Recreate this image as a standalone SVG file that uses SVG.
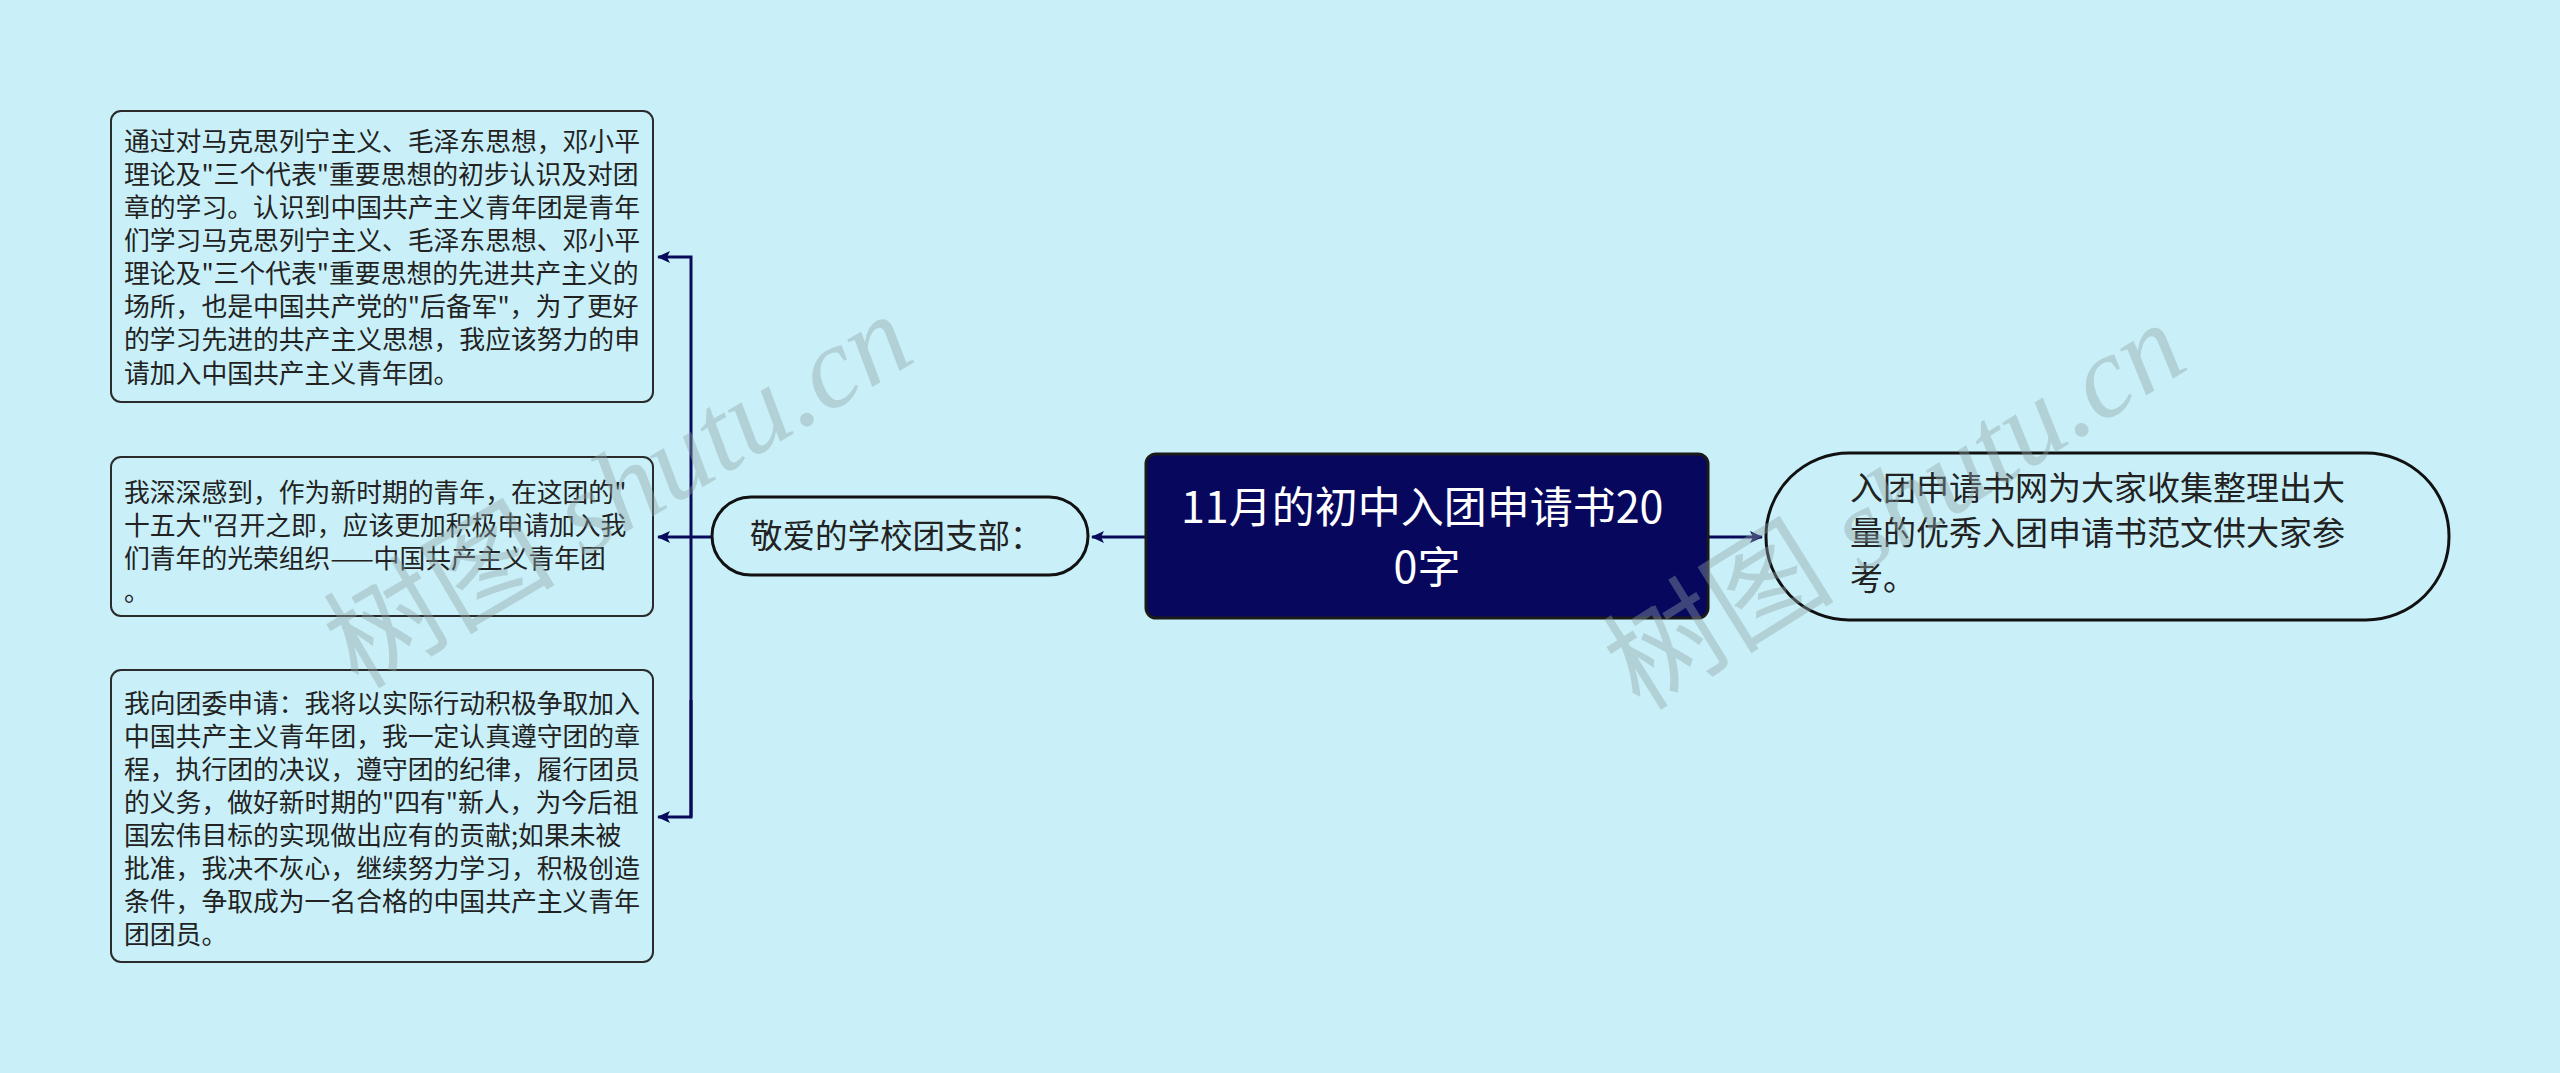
<svg xmlns="http://www.w3.org/2000/svg" width="2560" height="1073" viewBox="0 0 2560 1073">
<defs>
<style>
.bg{fill:#c9f0f8}
.box{fill:#c9f0f8;stroke:#2b2b2b;stroke-width:2}
.pill{fill:#c9f0f8;stroke:#111;stroke-width:3}
.center{fill:#07075e;stroke:#1a1a1a;stroke-width:3}
.t{font-family:"Noto Sans CJK SC","Noto Sans",sans-serif;fill:#222}
.bt{font-size:25.8px}
.ct{font-family:"Noto Sans CJK SC","Noto Sans",sans-serif;fill:#fff;font-size:43px;text-anchor:middle}
.conn{fill:none;stroke:#0a0a5a;stroke-width:3}
.wm{font-family:"Liberation Serif","Noto Sans CJK SC",serif;font-size:116px;fill:#8fa3a8;opacity:0.4}
</style>
<marker id="ah" markerUnits="userSpaceOnUse" markerWidth="13" markerHeight="12" refX="12" refY="6" orient="auto">
<path d="M0,0 L13,6 L0,12 L3,6 z" fill="#0a0a5a"/>
</marker>
</defs>
<rect class="bg" x="0" y="0" width="2560" height="1073"/>
<g id="connectors">
<path class="conn" d="M1146,537 H1092" marker-end="url(#ah)"/>
<path class="conn" d="M1708,537 H1762" marker-end="url(#ah)"/>
<path class="conn" d="M712,537 H658" marker-end="url(#ah)"/>
<path class="conn" d="M691,817 V257 H658" marker-end="url(#ah)"/>
<path class="conn" d="M691,700 V817 H658" marker-end="url(#ah)"/>
</g>
<g id="node-box1">
<rect class="box" x="111" y="111" width="542" height="291" rx="10"/>
<text class="t bt">
<tspan x="124" y="151">通过对马克思列宁主义、毛泽东思想，邓小平</tspan>
<tspan x="124" y="184">理论及"三个代表"重要思想的初步认识及对团</tspan>
<tspan x="124" y="217">章的学习。认识到中国共产主义青年团是青年</tspan>
<tspan x="124" y="250">们学习马克思列宁主义、毛泽东思想、邓小平</tspan>
<tspan x="124" y="283">理论及"三个代表"重要思想的先进共产主义的</tspan>
<tspan x="124" y="316">场所，也是中国共产党的"后备军"，为了更好</tspan>
<tspan x="124" y="349">的学习先进的共产主义思想，我应该努力的申</tspan>
<tspan x="124" y="383">请加入中国共产主义青年团。</tspan>
</text>
</g>
<g id="node-box2">
<rect class="box" x="111" y="457" width="542" height="159" rx="10"/>
<text class="t bt">
<tspan x="124" y="502">我深深感到，作为新时期的青年，在这团的"</tspan>
<tspan x="124" y="535">十五大"召开之即，应该更加积极申请加入我</tspan>
<tspan x="124" y="568">们青年的光荣组织——中国共产主义青年团</tspan>
<tspan x="124" y="601">。</tspan>
</text>
</g>
<g id="node-box3">
<rect class="box" x="111" y="670" width="542" height="292" rx="10"/>
<text class="t bt">
<tspan x="124" y="713">我向团委申请：我将以实际行动积极争取加入</tspan>
<tspan x="124" y="746">中国共产主义青年团，我一定认真遵守团的章</tspan>
<tspan x="124" y="779">程，执行团的决议，遵守团的纪律，履行团员</tspan>
<tspan x="124" y="812">的义务，做好新时期的"四有"新人，为今后祖</tspan>
<tspan x="124" y="845">国宏伟目标的实现做出应有的贡献;如果未被</tspan>
<tspan x="124" y="878">批准，我决不灰心，继续努力学习，积极创造</tspan>
<tspan x="124" y="911">条件，争取成为一名合格的中国共产主义青年</tspan>
<tspan x="124" y="944">团团员。</tspan>
</text>
</g>
<g id="node-left">
<rect class="pill" x="712" y="497" width="376" height="78" rx="39"/>
<text class="t" x="750" y="548" font-size="32.5">敬爱的学校团支部：</text>
</g>
<g id="node-center">
<rect class="center" x="1146" y="454" width="562" height="164" rx="10"/>
<text class="ct">
<tspan x="1427" y="523">11月的初中入团申请书20</tspan>
<tspan x="1427" y="583">0字</tspan>
</text>
</g>
<g id="node-right">
<rect class="pill" x="1766" y="453" width="683" height="167" rx="83"/>
<text class="t" font-size="33">
<tspan x="1850" y="500">入团申请书网为大家收集整理出大</tspan>
<tspan x="1850" y="545">量的优秀入团申请书范文供大家参</tspan>
<tspan x="1850" y="590">考。</tspan>
</text>
</g>
<g id="watermarks">
<text class="wm" transform="translate(358,690) rotate(-30.5)">树图 <tspan font-style="italic">shutu.cn</tspan></text>
<text class="wm" transform="translate(1640,712) rotate(-32)">树图 <tspan font-style="italic">shutu.cn</tspan></text>
</g>
</svg>
